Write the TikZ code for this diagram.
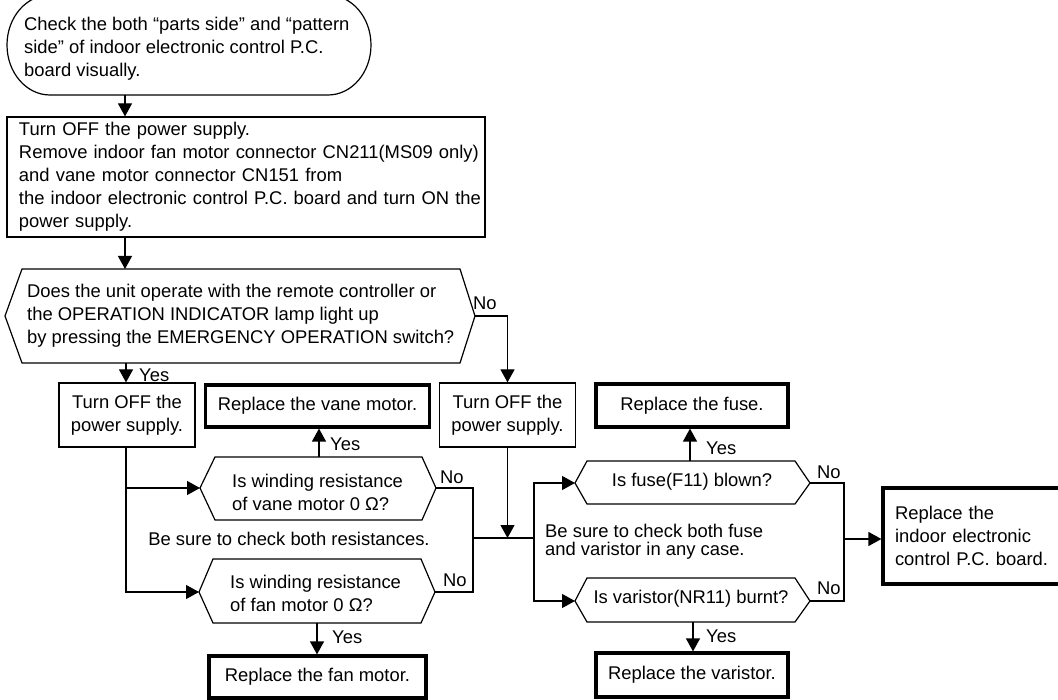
\documentclass[tikz,border=0pt]{standalone}
\usepackage{fontspec}
\setmainfont{Liberation Sans}
\usetikzlibrary{arrows.meta}
\begin{document}
\begin{tikzpicture}[x=1pt,y=-1pt,
  font=\fontsize{18.4}{23}\selectfont,
  ln/.style={line width=1.2pt, line join=miter},
  arr/.style={line width=1.2pt, -{Triangle[length=13pt,width=14pt]}},
  txt/.style={inner sep=0pt, align=left},
  lbl/.style={inner sep=0pt, anchor=west},
  box/.style={draw, line width=1.2pt, inner xsep=12pt, inner ysep=0pt, align=center},
  tbox/.style={draw, line width=3.2pt, inner xsep=12pt, inner ysep=0pt, align=center}]
\useasboundingbox (0,0) rectangle (1058,700);

% start terminal
\draw[ln] (50,95) -- (328,95) arc[start angle=90, end angle=-90, x radius=43, y radius=50]
  -- (50,-5) arc[start angle=270, end angle=90, x radius=43, y radius=50] -- cycle;
\node[txt, anchor=west] (start) at (24,48.5) {Check the both “parts side” and “pattern\\side” of indoor electronic control P.C.\\board visually.};
\coordinate (startb) at (125,95);

% power box
\node[box, align=left, text width=454pt, minimum height=120pt] (power) at (246,177)
 {Turn OFF the power supply.\\\mbox{Remove indoor fan motor connector CN211(MS09 only)}\\and vane motor connector CN151 from\\\mbox{the indoor electronic control P.C. board and turn ON the}\\power supply.};

% question 1
\draw[ln] (5,316) -- (22,269) -- (460,269) -- (475,316) -- (460,363) -- (22,363) -- cycle;
\coordinate (q1n) at (125,269);
\coordinate (q1s) at (126,363);
\coordinate (q1e) at (475,316);
\node[txt, anchor=west] (q1) at (27,316) {Does the unit operate with the remote controller or\\the OPERATION INDICATOR lamp light up\\by pressing the EMERGENCY OPERATION switch?};
\node[lbl] (q1no) at (473,303) {No};
\node[lbl] (q1yes) at (139,375) {Yes};

% second row boxes
\node[box, minimum width=136pt, minimum height=64pt] (off1) at (127,415) {Turn OFF the\\power supply.};
\node[tbox, minimum width=217pt, minimum height=42pt] (vanebox) at (317.5,406) {Replace the vane motor.};
\node[box, minimum width=135pt, minimum height=64pt] (off2) at (507.5,415) {Turn OFF the\\power supply.};
\node[tbox, minimum width=192pt, minimum height=43pt] (fusebox) at (692,405.5) {Replace the fuse.};

% vane question
\draw[ln] (200,488) -- (215,457) -- (422,457) -- (436,488) -- (422,520) -- (215,520) -- cycle;
\coordinate (vaneqw) at (200,488);
\coordinate (vaneqe) at (436,488);
\coordinate (vaneqn) at (319,457);
\node[txt, anchor=west] (vaneq) at (232,492) {Is winding resistance\\of vane motor 0 Ω?};
\node[lbl] (vaneyes) at (330,444) {Yes};
\node[lbl] (vaneno) at (440,477) {No};

\node[inner sep=0pt] (note1) at (289,539) {Be sure to check both resistances.};

% fan question
\draw[ln] (199,592) -- (213,559) -- (421,559) -- (435,592) -- (421,623) -- (213,623) -- cycle;
\coordinate (fanqw) at (199,592);
\coordinate (fanqe) at (435,592);
\coordinate (fanqs) at (317,623);
\node[txt, anchor=west] (fanq) at (230,593) {Is winding resistance\\of fan motor 0 Ω?};
\node[lbl] (fanno) at (443,580) {No};
\node[lbl] (fanyes) at (332,637) {Yes};
\node[tbox, minimum width=217pt, minimum height=42pt] (fanbox) at (317.5,677) {Replace the fan motor.};

% fuse question
\draw[ln] (575,483) -- (587,461) -- (795,461) -- (810,483) -- (795,504) -- (587,504) -- cycle;
\coordinate (fuseqw) at (575,483);
\coordinate (fuseqe) at (810,483);
\coordinate (fuseqn) at (690,461);
\node[inner sep=0pt] (fuseq) at (692,482) {Is fuse(F11) blown?};
\node[lbl] (fuseyes) at (706,448) {Yes};
\node[lbl] (fuseno) at (817,472) {No};

\node[txt, anchor=west, font=\fontsize{18.4}{18}\selectfont] (note2) at (545,542) {Be sure to check both fuse\\and varistor in any case.};

% varistor question
\draw[ln] (575,601) -- (587,578) -- (795,578) -- (810,601) -- (795,622) -- (587,622) -- cycle;
\coordinate (varqw) at (575,601);
\coordinate (varqe) at (810,601);
\coordinate (varqs) at (693,622);
\node[inner sep=0pt] (varq) at (691,599) {Is varistor(NR11) burnt?};
\node[lbl] (varno) at (817,588) {No};
\node[lbl] (varyes) at (706,636) {Yes};
\node[tbox, minimum width=192pt, minimum height=44pt] (varbox) at (692,675) {Replace the varistor.};

% final box (right edge runs off the picture)
\node[tbox, align=left, text width=173pt, minimum height=96pt] (final) at (981.5,536)
 {Replace the\\indoor electronic\\control P.C. board.};

% junctions
\coordinate (jl) at (473,538);
\coordinate (jr) at (534,538);
\coordinate (kr) at (844,539);

% connectors
\draw[arr] (startb) -- (startb |- power.north);
\draw[arr] (q1n |- power.south) -- (q1n);
\draw[arr] (q1s) -- (q1s |- off1.north);
\draw[arr] (q1e) -| (off2.north);
\draw[arr] (q1s |- off1.south) |- (vaneqw);
\draw[arr] (q1s |- off1.south) |- (fanqw);
\draw[arr] (vaneqn) -- (vaneqn |- vanebox.south);
\draw[arr] (fanqs) -- (fanqs |- fanbox.north);
\draw[ln] (vaneqe) -| (jl) |- (fanqe);
\draw[ln] (jl) -- (jr);
\draw[arr] (off2.south) -- (off2.south |- jl);
\draw[arr] (jr) |- (fuseqw);
\draw[arr] (jr) |- (varqw);
\draw[arr] (fuseqn) -- (fuseqn |- fusebox.south);
\draw[arr] (varqs) -- (varqs |- varbox.north);
\draw[ln] (fuseqe) -| (kr) |- (varqe);
\draw[arr] (kr) -- (kr -| final.west);
\end{tikzpicture}
\end{document}
